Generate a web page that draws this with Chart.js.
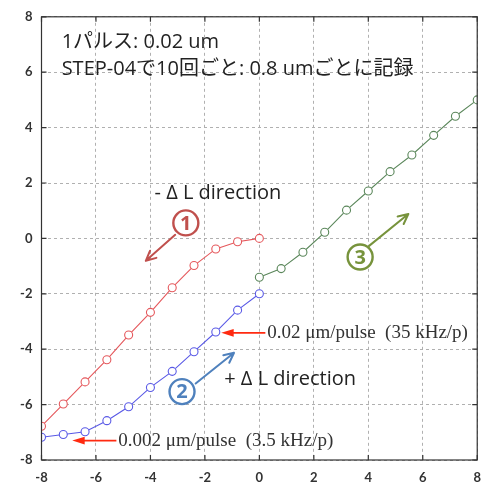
<!DOCTYPE html>
<html>
<head>
<meta charset="utf-8">
<script src="https://cdn.jsdelivr.net/npm/chart.js@4/dist/chart.umd.min.js"></script>
<style>
html,body{margin:0;padding:0;background:#fff;}
canvas{display:block;}
</style>
</head>
<body>
<canvas id="c" width="491" height="487"></canvas>
<script>
// ---- data ----
const xMinus = [-8, -7.2, -6.4, -5.6, -4.8, -4, -3.2, -2.4, -1.6, -0.8, 0];
const xPlus  = [0, 0.8, 1.6, 2.4, 3.2, 4, 4.8, 5.6, 6.4, 7.2, 8];
const run1 = [-6.78, -5.98, -5.18, -4.38, -3.49, -2.67, -1.78, -0.98, -0.38, -0.12, 0];
const run2 = [-7.18, -7.08, -6.98, -6.58, -6.08, -5.38, -4.80, -4.09, -3.38, -2.59, -2.00];
const run3 = [-1.40, -1.09, -0.50, 0.22, 1.02, 1.71, 2.41, 3.01, 3.72, 4.41, 5.00];
const axisTicks = [-8, -6, -4, -2, 0, 2, 4, 6, 8];
const noteLines = ['1パルス: 0.02 um', 'STEP-04で10回ごと: 0.8 umごとに記録'];
const dirMinus = '- Δ L direction';
const dirPlus = '+ Δ L direction';
const rateFast = '0.02 μm/pulse  (35 kHz/p)';
const rateSlow = '0.002 μm/pulse  (3.5 kHz/p)';

const pts = (xs, ys) => xs.map((x, i) => ({x: x, y: ys[i]}));

const RED = '#e5585c', BLUE = '#5a5ae6', GREEN = '#5b875b';
const SANS = 'Lato, "Noto Sans CJK JP", sans-serif';
const NOTE = '"Open Sans", "Noto Sans CJK JP", sans-serif';

function ds(data, color) {
  return {
    data: data, borderColor: color, backgroundColor: '#fff',
    borderWidth: 1.1, pointRadius: 4, pointHoverRadius: 4,
    pointBorderWidth: 1.1, pointBackgroundColor: '#fff', pointBorderColor: color,
    tension: 0
  };
}

const frameAndTicks = {
  id: 'frame',
  afterDatasetsDraw(chart) {
    const ctx = chart.ctx, a = chart.chartArea;
    const xs = chart.scales.x, ys = chart.scales.y;
    ctx.save();
    ctx.strokeStyle = '#333';
    ctx.lineWidth = 1.2;
    ctx.setLineDash([]);
    ctx.strokeRect(a.left, a.top, a.right - a.left, a.bottom - a.top);
    const L = 5;
    ctx.beginPath();
    axisTicks.forEach(v => {
      const px = xs.getPixelForValue(v);
      ctx.moveTo(px, a.bottom); ctx.lineTo(px, a.bottom - L);
      ctx.moveTo(px, a.top); ctx.lineTo(px, a.top + L);
      const py = ys.getPixelForValue(v);
      ctx.moveTo(a.left, py); ctx.lineTo(a.left + L, py);
      ctx.moveTo(a.right, py); ctx.lineTo(a.right - L, py);
    });
    ctx.stroke();
    ctx.restore();
  }
};

function arrowOpen(ctx, x1, y1, x2, y2, color, w) {
  const ang = Math.atan2(y2 - y1, x2 - x1), h = 11, s = 0.45;
  ctx.save();
  ctx.strokeStyle = color; ctx.lineWidth = w; ctx.lineCap = 'round'; ctx.lineJoin = 'round';
  ctx.beginPath(); ctx.moveTo(x1, y1); ctx.lineTo(x2, y2);
  ctx.moveTo(x2 - h * Math.cos(ang - s), y2 - h * Math.sin(ang - s));
  ctx.lineTo(x2, y2);
  ctx.lineTo(x2 - h * Math.cos(ang + s), y2 - h * Math.sin(ang + s));
  ctx.stroke();
  ctx.restore();
}
function arrowFilled(ctx, x1, y1, x2, y2, color) {
  const ang = Math.atan2(y2 - y1, x2 - x1), h = 13, s = 0.3;
  ctx.save();
  ctx.strokeStyle = color; ctx.fillStyle = color; ctx.lineWidth = 1.6;
  ctx.beginPath(); ctx.moveTo(x1, y1);
  ctx.lineTo(x2 - h * 0.8 * Math.cos(ang), y2 - h * 0.8 * Math.sin(ang)); ctx.stroke();
  ctx.beginPath(); ctx.moveTo(x2, y2);
  ctx.lineTo(x2 - h * Math.cos(ang - s), y2 - h * Math.sin(ang - s));
  ctx.lineTo(x2 - h * Math.cos(ang + s), y2 - h * Math.sin(ang + s));
  ctx.closePath(); ctx.fill();
  ctx.restore();
}
function circled(ctx, x, y, label, color) {
  ctx.save();
  ctx.strokeStyle = color; ctx.lineWidth = 2.4;
  ctx.fillStyle = '#fff';
  ctx.beginPath(); ctx.arc(x, y, 12.5, 0, Math.PI * 2); ctx.fill(); ctx.stroke();
  ctx.fillStyle = color;
  ctx.font = 'bold 20px ' + NOTE;
  ctx.textAlign = 'center'; ctx.textBaseline = 'middle';
  ctx.fillText(label, x, y + 1);
  ctx.restore();
}

const notes = {
  id: 'notes',
  afterDatasetsDraw(chart) {
    const ctx = chart.ctx, X = v => chart.scales.x.getPixelForValue(v), Y = v => chart.scales.y.getPixelForValue(v);
    ctx.save();
    ctx.fillStyle = '#222';
    ctx.textAlign = 'left'; ctx.textBaseline = 'middle';
    ctx.font = '20px ' + NOTE;
    ctx.fillText(noteLines[0], X(-7.26), Y(7.08));
    ctx.fillText(noteLines[1], X(-7.26), Y(6.11));
    ctx.fillText(dirMinus, X(-3.85), Y(1.64));
    ctx.fillText(dirPlus, X(-1.29), Y(-5.10));
    ctx.font = '19px "Liberation Serif", "DejaVu Serif", serif';
    ctx.fillStyle = '#333';
    ctx.fillText(rateFast, X(0.29), Y(-3.41));
    ctx.fillText(rateSlow, X(-5.18), Y(-7.30));
    ctx.restore();

    arrowOpen(ctx, X(-3.09), Y(0.13), X(-4.17), Y(-0.81), '#c0504d', 2);
    circled(ctx, X(-2.70), Y(0.56), '1', '#c0504d');
    arrowOpen(ctx, X(-2.34), Y(-5.24), X(-0.93), Y(-4.13), '#4f81bd', 2);
    circled(ctx, X(-2.84), Y(-5.53), '2', '#4f81bd');
    arrowOpen(ctx, X(4.03), Y(-0.27), X(5.47), Y(0.88), '#77933c', 2);
    circled(ctx, X(3.70), Y(-0.67), '3', '#77933c');

    arrowFilled(ctx, X(0.22), Y(-3.41), X(-1.40), Y(-3.41), '#ff2a10');
    arrowFilled(ctx, X(-5.25), Y(-7.30), X(-6.87), Y(-7.30), '#ff2a10');
  }
};

const gridOpts = { color: '#b0b0b0', lineWidth: 1, drawTicks: false };
const tickFont = { family: SANS, size: 13, weight: 'bold' };

new Chart(document.getElementById('c'), {
  type: 'line',
  data: {
    datasets: [
      ds(pts(xMinus, run1), RED),
      ds(pts(xMinus, run2), BLUE),
      ds(pts(xPlus, run3), GREEN)
    ]
  },
  options: {
    responsive: false,
    animation: false,
    layout: { padding: { top: 16, right: 5, left: 0, bottom: 0 } },
    plugins: { legend: { display: false }, tooltip: { enabled: false } },
    scales: {
      x: {
        type: 'linear', min: -8, max: 8,
        afterBuildTicks: s => { s.ticks = axisTicks.map(v => ({value: v})); },
        ticks: { color: '#333', font: tickFont, padding: 10, maxRotation: 0 },
        grid: gridOpts,
        border: { display: false, dash: [3, 3] },
        afterFit: s => { s.height = 27; }
      },
      y: {
        type: 'linear', min: -8, max: 8,
        afterBuildTicks: s => { s.ticks = axisTicks.map(v => ({value: v})); },
        ticks: { color: '#333', font: tickFont, padding: 9 },
        grid: gridOpts,
        border: { display: false, dash: [3, 3] },
        afterFit: s => { s.width = 41.5; }
      }
    }
  },
  plugins: [frameAndTicks, notes]
});
</script>
</body>
</html>
